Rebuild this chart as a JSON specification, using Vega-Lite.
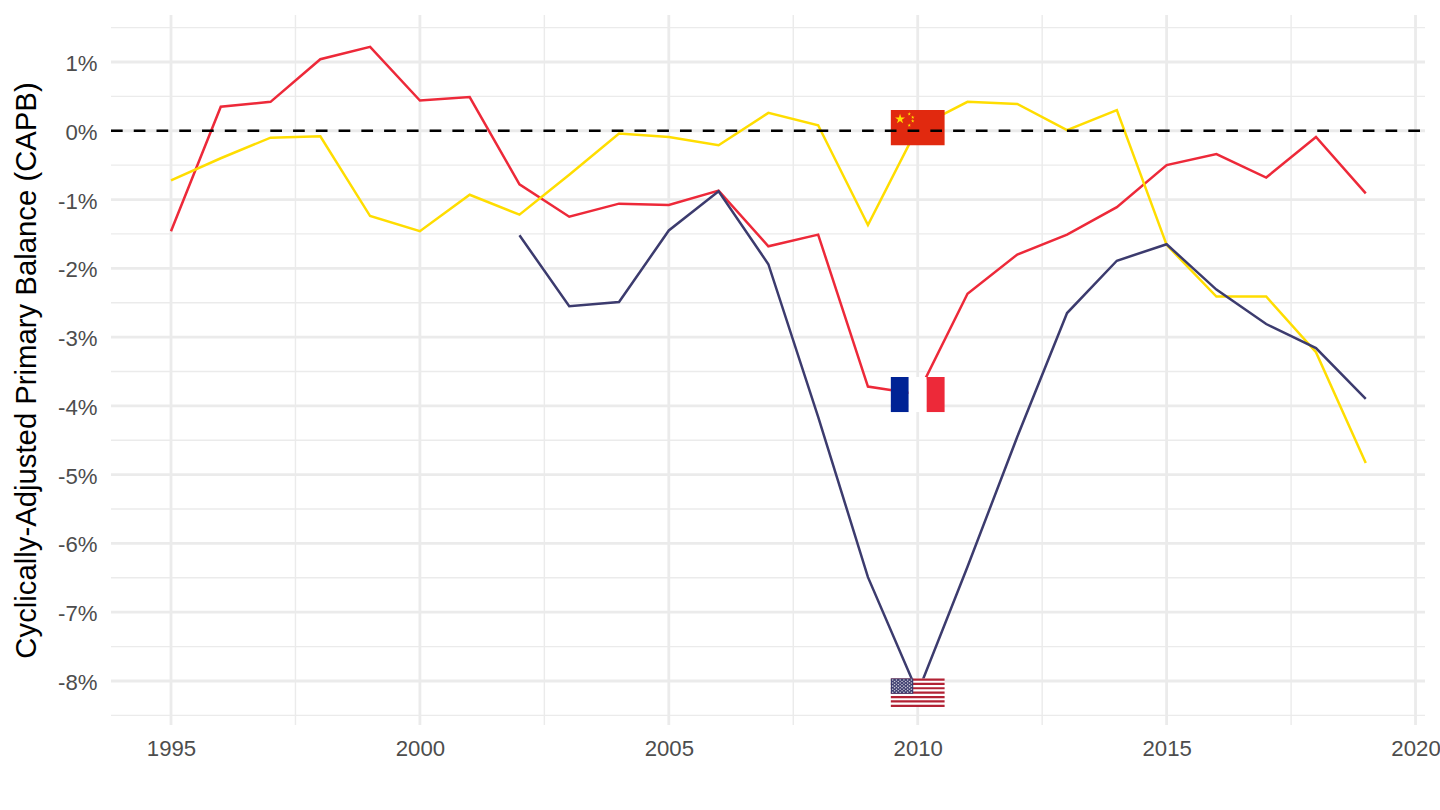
{
"$schema":"https://vega.github.io/schema/vega-lite/v6.json",
"width":1314,"height":710,"autosize":"none",
"padding":{"left":111,"top":15,"right":15,"bottom":85},
"background":"white",
"config":{"view":{"stroke":null},"font":"Liberation Sans"},
"datasets":{
"series":[
{"year":1995,"country":"France","v":-1.46},{"year":1996,"country":"France","v":0.35},{"year":1997,"country":"France","v":0.42},{"year":1998,"country":"France","v":1.04},{"year":1999,"country":"France","v":1.22},{"year":2000,"country":"France","v":0.44},{"year":2001,"country":"France","v":0.49},{"year":2002,"country":"France","v":-0.78},{"year":2003,"country":"France","v":-1.25},{"year":2004,"country":"France","v":-1.06},{"year":2005,"country":"France","v":-1.08},{"year":2006,"country":"France","v":-0.87},{"year":2007,"country":"France","v":-1.68},{"year":2008,"country":"France","v":-1.51},{"year":2009,"country":"France","v":-3.72},{"year":2010,"country":"France","v":-3.83},{"year":2011,"country":"France","v":-2.37},{"year":2012,"country":"France","v":-1.8},{"year":2013,"country":"France","v":-1.51},{"year":2014,"country":"France","v":-1.11},{"year":2015,"country":"France","v":-0.5},{"year":2016,"country":"France","v":-0.34},{"year":2017,"country":"France","v":-0.68},{"year":2018,"country":"France","v":-0.09},{"year":2019,"country":"France","v":-0.91},
{"year":1995,"country":"China","v":-0.72},{"year":1996,"country":"China","v":-0.4},{"year":1997,"country":"China","v":-0.1},{"year":1998,"country":"China","v":-0.08},{"year":1999,"country":"China","v":-1.24},{"year":2000,"country":"China","v":-1.46},{"year":2001,"country":"China","v":-0.93},{"year":2002,"country":"China","v":-1.22},{"year":2003,"country":"China","v":-0.64},{"year":2004,"country":"China","v":-0.04},{"year":2005,"country":"China","v":-0.09},{"year":2006,"country":"China","v":-0.21},{"year":2007,"country":"China","v":0.26},{"year":2008,"country":"China","v":0.08},{"year":2009,"country":"China","v":-1.37},{"year":2010,"country":"China","v":0.05},{"year":2011,"country":"China","v":0.42},{"year":2012,"country":"China","v":0.39},{"year":2013,"country":"China","v":0.01},{"year":2014,"country":"China","v":0.3},{"year":2015,"country":"China","v":-1.66},{"year":2016,"country":"China","v":-2.41},{"year":2017,"country":"China","v":-2.41},{"year":2018,"country":"China","v":-3.22},{"year":2019,"country":"China","v":-4.83},
{"year":2002,"country":"United States","v":-1.52},{"year":2003,"country":"United States","v":-2.55},{"year":2004,"country":"United States","v":-2.49},{"year":2005,"country":"United States","v":-1.45},{"year":2006,"country":"United States","v":-0.88},{"year":2007,"country":"United States","v":-1.94},{"year":2008,"country":"United States","v":-4.16},{"year":2009,"country":"United States","v":-6.49},{"year":2010,"country":"United States","v":-8.17},{"year":2011,"country":"United States","v":-6.34},{"year":2012,"country":"United States","v":-4.45},{"year":2013,"country":"United States","v":-2.65},{"year":2014,"country":"United States","v":-1.89},{"year":2015,"country":"United States","v":-1.65},{"year":2016,"country":"United States","v":-2.31},{"year":2017,"country":"United States","v":-2.81},{"year":2018,"country":"United States","v":-3.16},{"year":2019,"country":"United States","v":-3.9}
],
"flags":[
{"part":"cn-red","a":2009.46,"b":2010.54,"c":0.3,"d":-0.21},
{"part":"fr-blue","a":2009.46,"b":2009.82,"c":-3.58,"d":-4.09},
{"part":"white","a":2009.82,"b":2010.18,"c":-3.58,"d":-4.09},
{"part":"fr-red","a":2010.18,"b":2010.54,"c":-3.58,"d":-4.09},
{"part":"us-white","a":2009.46,"b":2010.54,"c":-7.963,"d":-8.377},
{"part":"us-red","a":2009.46,"b":2010.54,"c":-7.963,"d":-7.995},
{"part":"us-red","a":2009.46,"b":2010.54,"c":-8.027,"d":-8.059},
{"part":"us-red","a":2009.46,"b":2010.54,"c":-8.09,"d":-8.122},
{"part":"us-red","a":2009.46,"b":2010.54,"c":-8.154,"d":-8.186},
{"part":"us-red","a":2009.46,"b":2010.54,"c":-8.218,"d":-8.25},
{"part":"us-red","a":2009.46,"b":2010.54,"c":-8.281,"d":-8.313},
{"part":"us-red","a":2009.46,"b":2010.54,"c":-8.345,"d":-8.377},
{"part":"us-blue","a":2009.46,"b":2009.91,"c":-7.963,"d":-8.186}
],
"cnStars":[{"a":2009.645,"c":0.17,"big":"y"},{"a":2009.83,"c":0.244,"big":"n"},{"a":2009.9,"c":0.196,"big":"n"},{"a":2009.9,"c":0.142,"big":"n"},{"a":2009.83,"c":0.08,"big":"n"}],
"usStars":[
{"a":2009.4975,"c":-7.985},{"a":2009.5725,"c":-7.985},{"a":2009.6475,"c":-7.985},{"a":2009.7225,"c":-7.985},{"a":2009.7975,"c":-7.985},{"a":2009.8725,"c":-7.985},
{"a":2009.535,"c":-8.008},{"a":2009.61,"c":-8.008},{"a":2009.685,"c":-8.008},{"a":2009.76,"c":-8.008},{"a":2009.835,"c":-8.008},
{"a":2009.4975,"c":-8.03},{"a":2009.5725,"c":-8.03},{"a":2009.6475,"c":-8.03},{"a":2009.7225,"c":-8.03},{"a":2009.7975,"c":-8.03},{"a":2009.8725,"c":-8.03},
{"a":2009.535,"c":-8.052},{"a":2009.61,"c":-8.052},{"a":2009.685,"c":-8.052},{"a":2009.76,"c":-8.052},{"a":2009.835,"c":-8.052},
{"a":2009.4975,"c":-8.075},{"a":2009.5725,"c":-8.075},{"a":2009.6475,"c":-8.075},{"a":2009.7225,"c":-8.075},{"a":2009.7975,"c":-8.075},{"a":2009.8725,"c":-8.075},
{"a":2009.535,"c":-8.097},{"a":2009.61,"c":-8.097},{"a":2009.685,"c":-8.097},{"a":2009.76,"c":-8.097},{"a":2009.835,"c":-8.097},
{"a":2009.4975,"c":-8.119},{"a":2009.5725,"c":-8.119},{"a":2009.6475,"c":-8.119},{"a":2009.7225,"c":-8.119},{"a":2009.7975,"c":-8.119},{"a":2009.8725,"c":-8.119},
{"a":2009.535,"c":-8.141},{"a":2009.61,"c":-8.141},{"a":2009.685,"c":-8.141},{"a":2009.76,"c":-8.141},{"a":2009.835,"c":-8.141},
{"a":2009.4975,"c":-8.164},{"a":2009.5725,"c":-8.164},{"a":2009.6475,"c":-8.164},{"a":2009.7225,"c":-8.164},{"a":2009.7975,"c":-8.164},{"a":2009.8725,"c":-8.164}
]
},
"layer":[
{"data":{"values":[{"y":1.5},{"y":0.5},{"y":-0.5},{"y":-1.5},{"y":-2.5},{"y":-3.5},{"y":-4.5},{"y":-5.5},{"y":-6.5},{"y":-7.5},{"y":-8.5}]},
 "mark":{"type":"rule","color":"#EBEBEB","strokeWidth":1.4},
 "encoding":{"y":{"field":"y","type":"quantitative","scale":{"domain":[-8.64,1.683],"nice":false,"zero":false},
   "axis":{"title":"Cyclically-Adjusted Primary Balance (CAPB)","titleFontSize":29.3,"titleFontWeight":"normal","titleColor":"#000000","titlePadding":16,"grid":false,"domain":false,"ticks":false,"values":[1,0,-1,-2,-3,-4,-5,-6,-7,-8],"labelExpr":"datum.value+'%'","labelFontSize":22.2,"labelColor":"#4D4D4D","labelPadding":14,"labelOffset":1.5}}}},
{"data":{"values":[{"x":1997.5},{"x":2002.5},{"x":2007.5},{"x":2012.5},{"x":2017.5}]},
 "mark":{"type":"rule","color":"#EBEBEB","strokeWidth":1.4},
 "encoding":{"x":{"field":"x","type":"quantitative","scale":{"domain":[1993.795,2020.19],"nice":false,"zero":false},
   "axis":{"title":null,"grid":false,"domain":false,"ticks":false,"values":[1995,2000,2005,2010,2015,2020],"format":"d","labelFontSize":22.2,"labelColor":"#4D4D4D","labelPadding":12}}}},
{"data":{"values":[{"y":1},{"y":0},{"y":-1},{"y":-2},{"y":-3},{"y":-4},{"y":-5},{"y":-6},{"y":-7},{"y":-8}]},
 "mark":{"type":"rule","color":"#EBEBEB","strokeWidth":2.8},
 "encoding":{"y":{"field":"y","type":"quantitative"}}},
{"data":{"values":[{"x":1995},{"x":2000},{"x":2005},{"x":2010},{"x":2015},{"x":2020}]},
 "mark":{"type":"rule","color":"#EBEBEB","strokeWidth":2.8},
 "encoding":{"x":{"field":"x","type":"quantitative"}}},
{"data":{"name":"series"},
 "mark":{"type":"line","strokeWidth":2.5,"strokeJoin":"miter","clip":true},
 "encoding":{"x":{"field":"year","type":"quantitative"},"y":{"field":"v","type":"quantitative"},
  "color":{"field":"country","type":"nominal","legend":null,"scale":{"domain":["China","France","United States"],"range":["#FFDD00","#ED2939","#3C3B6E"]}}}},
{"data":{"name":"flags"},
 "mark":{"type":"rect"},
 "encoding":{"x":{"field":"a","type":"quantitative"},"x2":{"field":"b"},"y":{"field":"c","type":"quantitative"},"y2":{"field":"d"},
  "fill":{"field":"part","type":"nominal","legend":null,"sort":null,"scale":{"domain":["cn-red","fr-blue","white","fr-red","us-white","us-red","us-blue"],"range":["#E1290F","#002395","#FFFFFF","#ED2939","#FFFFFF","#B22234","#3C3B6E"]}}}},
{"data":{"name":"cnStars"},
 "mark":{"type":"point","filled":true,"color":"#FFDE00","opacity":1,"shape":"M0,-1L0.225,-0.31L0.951,-0.309L0.363,0.118L0.588,0.809L0,0.382L-0.588,0.809L-0.363,0.118L-0.951,-0.309L-0.225,-0.31Z"},
 "encoding":{"x":{"field":"a","type":"quantitative"},"y":{"field":"c","type":"quantitative"},
  "size":{"field":"big","type":"nominal","legend":null,"scale":{"domain":["y","n"],"range":[110,14]}}}},
{"data":{"name":"usStars"},
 "mark":{"type":"point","filled":true,"color":"#FFFFFF","opacity":0.75,"shape":"circle","size":2.5},
 "encoding":{"x":{"field":"a","type":"quantitative"},"y":{"field":"c","type":"quantitative"}}},
{"data":{"values":[{"y":0}]},
 "mark":{"type":"rule","color":"#000000","strokeWidth":2.5,"strokeDash":[11.7,11.06],"strokeDashOffset":17.76},
 "encoding":{"y":{"field":"y","type":"quantitative"}}}
]
}
